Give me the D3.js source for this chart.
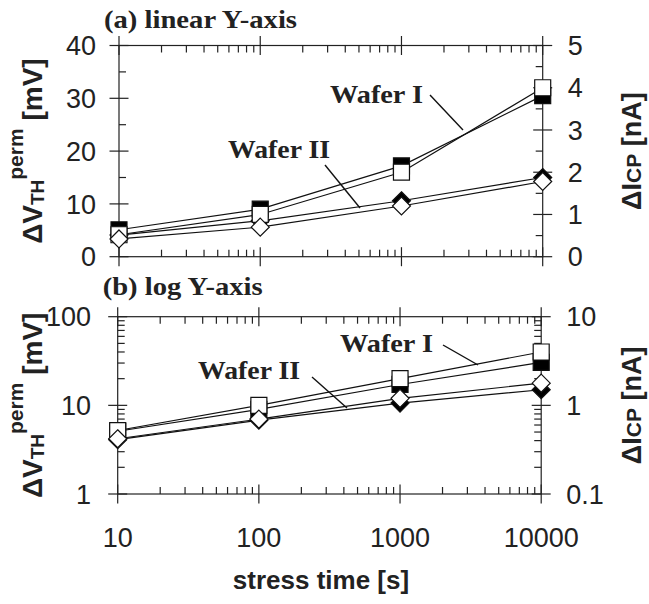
<!DOCTYPE html>
<html>
<head>
<meta charset="utf-8">
<script src="https://cdn.jsdelivr.net/npm/d3@7"></script>
<style>
  body { margin: 0; background: #fff; }
  svg { display: block; }
</style>
</head>
<body>
<svg id="chart" width="649" height="604"></svg>
<script>
// stress time [s]
var stressTime = [10, 100, 1000, 10000];
// Wafer I: filled squares = dVth [mV], open squares = dIcp [nA]
var waferI_dVth = [5.1, 9.0, 17.2, 30.5];
var waferI_dIcp = [0.52, 1.0, 2.0, 4.0];
// Wafer II: filled diamonds = dVth [mV], open diamonds = dIcp [nA]
var waferII_dVth = [4.1, 6.8, 10.6, 15.0];
var waferII_dIcp = [0.42, 0.70, 1.2, 1.78];

var xTicks = [10, 100, 1000, 10000];
var linLeftTicks = [0, 10, 20, 30, 40];
var linRightTicks = [0, 1, 2, 3, 4, 5];
var logLeftTicks = [1, 10, 100];
var logRightTicks = [0.1, 1, 10];

var svg = d3.select("#chart");
var sans = "'Liberation Sans', Arial, sans-serif",
    serif = "'Liberation Serif', 'Times New Roman', serif";

function logMinors(lo, hi) {
  var out = [];
  for (var d = lo; d < hi; d *= 10)
    for (var k = 2; k <= 9; k++) out.push(d * k);
  return out;
}

function drawPanel(cfg) {
  var x = d3.scaleLog().domain([10, 10000]).range([cfg.left, cfg.right]);
  var yL, yR, leftMinor, rightMinor;
  if (cfg.log) {
    yL = d3.scaleLog().domain([1, 100]).range([cfg.bottom, cfg.top]);
    yR = d3.scaleLog().domain([0.1, 10]).range([cfg.bottom, cfg.top]);
    leftMinor = logMinors(1, 100);
    rightMinor = logMinors(0.1, 10);
  } else {
    yL = d3.scaleLinear().domain([0, 40]).range([cfg.bottom, cfg.top]);
    yR = d3.scaleLinear().domain([0, 5]).range([cfg.bottom, cfg.top]);
    leftMinor = [5, 15, 25, 35];
    rightMinor = [0.5, 1.5, 2.5, 3.5, 4.5];
  }

  var g = svg.append("g");
  var axisCol = "#222", major = 9.5, minor = 7;

  // frame
  g.append("rect")
    .attr("x", cfg.left).attr("y", cfg.top)
    .attr("width", cfg.right - cfg.left).attr("height", cfg.bottom - cfg.top)
    .attr("fill", "none").attr("stroke", axisCol).attr("stroke-width", 1.2);

  var ticks = g.append("g").attr("stroke", axisCol).attr("stroke-width", 1.2);

  // x ticks (top and bottom)
  xTicks.forEach(function(t) {
    ticks.append("line").attr("x1", x(t)).attr("x2", x(t))
      .attr("y1", cfg.top - major).attr("y2", cfg.top + major);
    ticks.append("line").attr("x1", x(t)).attr("x2", x(t))
      .attr("y1", cfg.bottom - major).attr("y2", cfg.bottom + major);
  });
  logMinors(10, 10000).forEach(function(t) {
    ticks.append("line").attr("x1", x(t)).attr("x2", x(t))
      .attr("y1", cfg.top).attr("y2", cfg.top + minor);
    ticks.append("line").attr("x1", x(t)).attr("x2", x(t))
      .attr("y1", cfg.bottom).attr("y2", cfg.bottom - minor);
  });

  // y ticks left / right
  var lt = cfg.log ? logLeftTicks : linLeftTicks,
      rt = cfg.log ? logRightTicks : linRightTicks;
  lt.forEach(function(v) {
    ticks.append("line").attr("y1", yL(v)).attr("y2", yL(v))
      .attr("x1", cfg.left - major).attr("x2", cfg.left + major);
  });
  leftMinor.forEach(function(v) {
    ticks.append("line").attr("y1", yL(v)).attr("y2", yL(v))
      .attr("x1", cfg.left).attr("x2", cfg.left + minor);
  });
  rt.forEach(function(v) {
    ticks.append("line").attr("y1", yR(v)).attr("y2", yR(v))
      .attr("x1", cfg.right - major).attr("x2", cfg.right + major);
  });
  rightMinor.forEach(function(v) {
    ticks.append("line").attr("y1", yR(v)).attr("y2", yR(v))
      .attr("x1", cfg.right).attr("x2", cfg.right - minor);
  });

  // tick labels
  var lab = g.append("g").attr("font-family", sans).attr("font-size", 27).attr("fill", "#222");
  lt.forEach(function(v) {
    lab.append("text").attr("x", cfg.leftLabelX).attr("y", yL(v)).attr("dy", "0.36em")
      .attr("text-anchor", "end").text(v);
  });
  rt.forEach(function(v) {
    lab.append("text").attr("x", cfg.right + 25).attr("y", yR(v)).attr("dy", "0.36em")
      .attr("text-anchor", "start").text(v);
  });
  if (cfg.xLabels) {
    xTicks.forEach(function(t) {
      lab.append("text").attr("x", x(t)).attr("y", cfg.bottom + 53)
        .attr("text-anchor", "middle").text(t);
    });
  }

  // series lines
  var series = [
    {v: waferI_dVth, y: yL, shape: "square", fill: "#000"},
    {v: waferII_dVth, y: yL, shape: "diamond", fill: "#000"},
    {v: waferI_dIcp, y: yR, shape: "square", fill: "#fff"},
    {v: waferII_dIcp, y: yR, shape: "diamond", fill: "#fff"}
  ];
  series.forEach(function(s) {
    var line = d3.line()
      .x(function(d, i) { return x(stressTime[i]); })
      .y(function(d) { return s.y(d); });
    g.append("path").datum(s.v).attr("d", line)
      .attr("fill", "none").attr("stroke", "#111").attr("stroke-width", 1.2);
  });

  // markers
  var sq = 8, dm = 9;
  series.forEach(function(s) {
    g.selectAll(null).data(s.v).enter().append("path")
      .attr("transform", function(d, i) { return "translate(" + x(stressTime[i]) + "," + s.y(d) + ")"; })
      .attr("d", s.shape === "square"
        ? "M" + (-sq) + "," + (-sq) + "H" + sq + "V" + sq + "H" + (-sq) + "Z"
        : "M0," + (-dm) + "L" + dm + ",0L0," + dm + "L" + (-dm) + ",0Z")
      .attr("fill", s.fill).attr("stroke", "#111").attr("stroke-width", 1.2);
  });

  // panel title
  g.append("text").attr("x", cfg.left - 15).attr("y", cfg.titleY)
    .attr("font-family", serif).attr("font-weight", "bold").attr("font-size", 25)
    .attr("textLength", cfg.titleLen).attr("lengthAdjust", "spacingAndGlyphs")
    .attr("fill", "#222").text(cfg.title);

  // wafer annotations
  cfg.notes.forEach(function(n) {
    g.append("text").attr("x", n.tx).attr("y", n.ty)
      .attr("font-family", serif).attr("font-weight", "bold").attr("font-size", 26)
      .attr("textLength", n.len).attr("lengthAdjust", "spacingAndGlyphs")
      .attr("fill", "#222").text(n.text);
    g.append("line").attr("x1", n.x1).attr("y1", n.y1).attr("x2", n.x2).attr("y2", n.y2)
      .attr("stroke", "#111").attr("stroke-width", 1.4);
  });

  // left axis title
  var mid = (cfg.top + cfg.bottom) / 2;
  var lt1 = g.append("text")
    .attr("transform", "translate(42," + mid + ") rotate(-90)")
    .attr("text-anchor", "middle").attr("font-family", sans).attr("font-weight", "bold")
    .attr("font-size", 28).attr("fill", "#222");
  lt1.append("tspan").text("ΔV");
  lt1.append("tspan").attr("font-size", 19).attr("dy", 2).text("TH");
  lt1.append("tspan").attr("font-size", 21).attr("dy", -21).text("perm");
  lt1.append("tspan").attr("dy", 19).text(" [mV]");

  // right axis title
  var rt1 = g.append("text")
    .attr("transform", "translate(641," + mid + ") rotate(-90)")
    .attr("text-anchor", "middle").attr("font-family", sans).attr("font-weight", "bold")
    .attr("font-size", 27).attr("fill", "#222");
  rt1.append("tspan").text("ΔI");
  rt1.append("tspan").attr("font-size", 21).text("CP");
  rt1.append("tspan").text(" [nA]");
}

drawPanel({
  log: false, left: 119, right: 542.7, top: 45.5, bottom: 256.7,
  leftLabelX: 96, xLabels: false,
  title: "(a) linear Y-axis", titleY: 28, titleLen: 193,
  notes: [
    {text: "Wafer I", tx: 330, ty: 103, len: 93, x1: 430, y1: 95, x2: 463, y2: 130},
    {text: "Wafer II", tx: 228, ty: 158, len: 102, x1: 325, y1: 165, x2: 360, y2: 208}
  ]
});

drawPanel({
  log: true, left: 117.7, right: 541.2, top: 316.7, bottom: 494,
  leftLabelX: 91, xLabels: true,
  title: "(b) log Y-axis", titleY: 295, titleLen: 160,
  notes: [
    {text: "Wafer I", tx: 340, ty: 352, len: 93, x1: 443, y1: 345, x2: 478, y2: 365},
    {text: "Wafer II", tx: 198, ty: 379, len: 102, x1: 312, y1: 377, x2: 347, y2: 408}
  ]
});

// x axis title
svg.append("text").attr("x", 321).attr("y", 589).attr("text-anchor", "middle")
  .attr("font-family", sans).attr("font-weight", "bold").attr("font-size", 26)
  .attr("fill", "#222").text("stress time [s]");
</script>
</body>
</html>
